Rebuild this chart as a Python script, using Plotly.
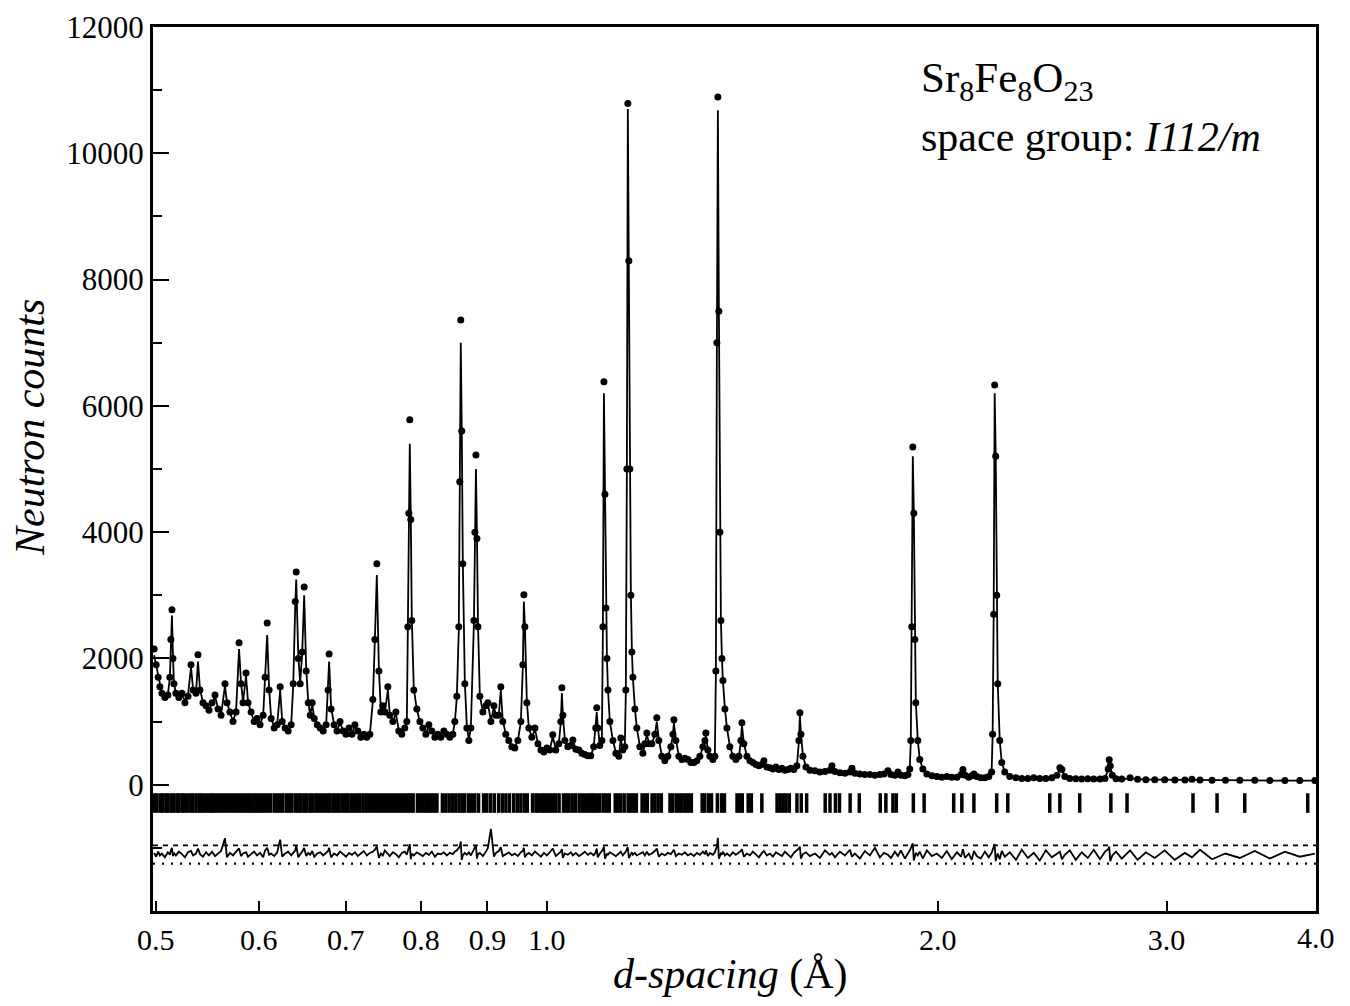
import numpy as np
import plotly.graph_objects as go

# ---------------- data ----------------
d_spacing = [
    0.4985, 0.5003, 0.5021, 0.5036, 0.5054, 0.5081, 0.5108, 0.5126, 0.5135, 0.5145,
    0.5154, 0.5163, 0.5181, 0.5209, 0.5237, 0.5265, 0.5293, 0.5322, 0.5341, 0.5369,
    0.5388, 0.5407, 0.5436, 0.5465, 0.5494, 0.5524, 0.5553, 0.5583, 0.5613, 0.5652,
    0.5672, 0.5702, 0.5733, 0.5764, 0.5795, 0.5815, 0.5836, 0.5867, 0.5888, 0.5920,
    0.5952, 0.5983, 0.6015, 0.6048, 0.6069, 0.6091, 0.6112, 0.6134, 0.6167, 0.6200,
    0.6233, 0.6255, 0.6288, 0.6322, 0.6356, 0.6379, 0.6402, 0.6413, 0.6436, 0.6458,
    0.6481, 0.6504, 0.6527, 0.6551, 0.6574, 0.6597, 0.6621, 0.6656, 0.6692, 0.6727,
    0.6762, 0.6786, 0.6798, 0.6822, 0.6858, 0.6894, 0.6931, 0.6968, 0.7005, 0.7042,
    0.7079, 0.7116, 0.7153, 0.7191, 0.7229, 0.7268, 0.7307, 0.7346, 0.7372, 0.7398,
    0.7425, 0.7451, 0.7477, 0.7504, 0.7544, 0.7570, 0.7611, 0.7652, 0.7692, 0.7733,
    0.7774, 0.7802, 0.7816, 0.7830, 0.7843, 0.7857, 0.7871, 0.7899, 0.7942, 0.7985,
    0.8027, 0.8070, 0.8113, 0.8156, 0.8200, 0.8243, 0.8287, 0.8331, 0.8376, 0.8420,
    0.8465, 0.8495, 0.8525, 0.8555, 0.8570, 0.8585, 0.8600, 0.8616, 0.8647, 0.8678,
    0.8709, 0.8740, 0.8787, 0.8803, 0.8819, 0.8835, 0.8851, 0.8880, 0.8928, 0.8977,
    0.9008, 0.9056, 0.9105, 0.9137, 0.9184, 0.9216, 0.9249, 0.9298, 0.9348, 0.9398,
    0.9448, 0.9499, 0.9550, 0.9584, 0.9601, 0.9618, 0.9652, 0.9686, 0.9738, 0.9791,
    0.9843, 0.9896, 0.9948, 1.0000, 1.0053, 1.0106, 1.0160, 1.0215, 1.0251, 1.0270,
    1.0288, 1.0324, 1.0379, 1.0435, 1.0472, 1.0528, 1.0584, 1.0641, 1.0697, 1.0754,
    1.0810, 1.0866, 1.0905, 1.0925, 1.0945, 1.0985, 1.1025, 1.1045, 1.1065, 1.1085,
    1.1105, 1.1124, 1.1144, 1.1182, 1.1243, 1.1302, 1.1361, 1.1401, 1.1441, 1.1482,
    1.1503, 1.1524, 1.1544, 1.1565, 1.1585, 1.1606, 1.1627, 1.1648, 1.1689, 1.1730,
    1.1793, 1.1856, 1.1898, 1.1940, 1.1982, 1.2046, 1.2110, 1.2153, 1.2196, 1.2261,
    1.2327, 1.2393, 1.2459, 1.2504, 1.2526, 1.2570, 1.2637, 1.2705, 1.2773, 1.2841,
    1.2909, 1.2978, 1.3047, 1.3117, 1.3187, 1.3234, 1.3257, 1.3304, 1.3351, 1.3422,
    1.3470, 1.3494, 1.3518, 1.3542, 1.3566, 1.3590, 1.3615, 1.3639, 1.3663, 1.3712,
    1.3761, 1.3833, 1.3907, 1.3981, 1.4056, 1.4106, 1.4131, 1.4181, 1.4257, 1.4333,
    1.4410, 1.4487, 1.4564, 1.4642, 1.4694, 1.4772, 1.4850, 1.4930, 1.5010, 1.5090,
    1.5170, 1.5251, 1.5332, 1.5413, 1.5495, 1.5578, 1.5633, 1.5661, 1.5689, 1.5745,
    1.5830, 1.5942, 1.6085, 1.6227, 1.6372, 1.6518, 1.6577, 1.6666, 1.6813, 1.6963,
    1.7114, 1.7175, 1.7266, 1.7418, 1.7574, 1.7731, 1.7889, 1.8048, 1.8177, 1.8306,
    1.8403, 1.8534, 1.8634, 1.8733, 1.8866, 1.8967, 1.9030, 1.9064, 1.9098, 1.9132,
    1.9166, 1.9200, 1.9234, 1.9302, 1.9370, 1.9475, 1.9615, 1.9790, 1.9965, 2.0140,
    2.0320, 2.0500, 2.0690, 2.0840, 2.0910, 2.0990, 2.1130, 2.1240, 2.1320, 2.1430,
    2.1580, 2.1740, 2.1890, 2.2000, 2.2040, 2.2080, 2.2120, 2.2160, 2.2200, 2.2240,
    2.2320, 2.2400, 2.2520, 2.2720, 2.2970, 2.3210, 2.3460, 2.3710, 2.3960, 2.4220,
    2.4480, 2.4700, 2.4830, 2.4920, 2.5050, 2.5270, 2.5540, 2.5810, 2.6090, 2.6370,
    2.6660, 2.6900, 2.7050, 2.7100, 2.7150, 2.7250, 2.7430, 2.7710, 2.8120, 2.8500,
    2.8920, 2.9380, 2.9900, 3.0440, 3.0990, 3.1380, 3.1830, 3.2520, 3.3300, 3.4160,
    3.5080, 3.6030, 3.7000, 3.7990, 3.9020,
]

obs_counts = [
    2150, 1900, 1700, 1550, 1450, 1380, 1420, 1700, 2300, 2770,
    2000, 1600, 1450, 1380, 1450, 1300, 1400, 1900, 1500, 1450,
    2060, 1500, 1300, 1250, 1180, 1300, 1420, 1200, 1100, 1600,
    1300, 1150, 1000, 1150, 2250, 1600, 1300, 1770, 1300, 1150,
    1000, 1050, 950, 1100, 1700, 2560, 1500, 1050, 900, 950,
    1550, 1000, 900, 850, 950, 1600, 2900, 3370, 2000, 1600,
    2100, 3130, 1800, 1300, 1100, 1300, 1050, 950, 900, 850,
    950, 1500, 2070, 1200, 950, 850, 1000, 850, 800, 900,
    800, 950, 850, 750, 800, 750, 800, 1350, 2300, 3500,
    1800, 1150, 1250, 1150, 1550, 1100, 1000, 1150, 850, 800,
    900, 1000, 2500, 4300, 5780, 4200, 2600, 1500, 1200, 1000,
    900, 800, 950, 850, 750, 800, 750, 850, 800, 750,
    800, 1000, 1400, 2500, 4800, 7360, 5600, 3500, 1600, 900,
    700, 900, 2600, 4000, 5220, 3900, 2500, 1400, 1150, 1250,
    1300, 1000, 1250, 1100, 1100, 1550, 1000, 800, 700, 600,
    580, 700, 1000, 1900, 3010, 2500, 1300, 900, 750, 900,
    650, 550, 520, 580, 550, 790, 550, 650, 1000, 1535,
    1100, 700, 600, 620, 710, 560, 550, 500, 480, 460,
    460, 600, 900, 1220, 900, 620, 700, 2500, 6380, 4600,
    2800, 2000, 1500, 1000, 700, 500, 450, 740, 550, 600,
    1500, 5000, 10790, 8300, 5000, 3000, 2100, 1700, 1200, 900,
    600, 500, 650, 820, 650, 650, 800, 1060, 700, 450,
    380, 450, 600, 800, 1030, 700, 450, 400, 420, 400,
    350, 350, 380, 450, 600, 700, 820, 550, 450, 400,
    450, 1800, 7000, 10890, 7500, 4000, 2600, 2000, 1650, 1200,
    900, 600, 450, 400, 450, 700, 980, 650, 450, 380,
    350, 320, 300, 320, 380, 280, 270, 250, 280, 240,
    260, 230, 240, 260, 240, 300, 700, 1140, 800, 450,
    280, 230, 220, 200, 210, 230, 300, 210, 190, 180,
    200, 260, 180, 170, 160, 160, 150, 160, 170, 220,
    160, 150, 200, 150, 140, 160, 250, 700, 2500, 5350,
    4300, 2300, 1300, 700, 400, 250, 170, 140, 130, 120,
    130, 120, 120, 160, 240, 150, 120, 140, 170, 130,
    110, 110, 130, 200, 800, 2700, 6330, 5200, 3000, 1600,
    700, 350, 200, 130, 110, 100, 100, 110, 100, 100,
    110, 150, 270, 240, 130, 100, 95, 90, 95, 90,
    90, 100, 250, 395, 300, 150, 95, 90, 110, 85,
    80, 80, 80, 75, 75, 85, 75, 70, 70, 70,
    70, 65, 65, 65, 65,
]

calc_counts = [
    2050, 1880, 1700, 1560, 1450, 1390, 1430, 1690, 2250, 2680,
    2050, 1620, 1440, 1390, 1430, 1320, 1410, 1860, 1520, 1450,
    1950, 1520, 1300, 1240, 1190, 1290, 1400, 1210, 1110, 1560,
    1310, 1140, 1010, 1150, 2150, 1620, 1310, 1720, 1310, 1140,
    1010, 1040, 960, 1090, 1680, 2370, 1520, 1060, 910, 950,
    1500, 1020, 900, 860, 950, 1580, 2850, 3250, 2050, 1620,
    2080, 3000, 1850, 1310, 1100, 1280, 1060, 950, 900, 860,
    940, 1480, 1950, 1230, 950, 860, 980, 860, 810, 890,
    810, 930, 850, 760, 790, 760, 800, 1320, 2280, 3320,
    1850, 1170, 1230, 1150, 1500, 1110, 1000, 1130, 860, 800,
    890, 1000, 2450, 4250, 5400, 4250, 2650, 1520, 1190, 1000,
    900, 810, 930, 850, 760, 790, 760, 840, 800, 760,
    800, 990, 1380, 2450, 4750, 7000, 5650, 3550, 1620, 920,
    720, 900, 2550, 3950, 5000, 3950, 2550, 1420, 1150, 1240,
    1280, 1010, 1230, 1100, 1100, 1500, 1020, 800, 700, 610,
    590, 700, 990, 1880, 2900, 2520, 1320, 900, 750, 880,
    660, 560, 530, 570, 560, 760, 560, 650, 990, 1450,
    1120, 710, 600, 620, 700, 570, 550, 500, 480, 470,
    460, 590, 890, 1150, 920, 630, 720, 2450, 6200, 4650,
    2850, 2020, 1520, 1000, 700, 510, 460, 720, 560, 610,
    1450, 4900, 10700, 8350, 5050, 3050, 2120, 1700, 1210, 900,
    610, 510, 640, 800, 660, 650, 790, 1000, 720, 460,
    390, 450, 590, 790, 980, 710, 460, 400, 410, 400,
    360, 350, 380, 450, 590, 690, 780, 560, 450, 400,
    460, 1750, 6900, 10680, 7550, 4050, 2620, 2010, 1650, 1210,
    900, 610, 460, 400, 440, 690, 950, 660, 450, 380,
    350, 320, 300, 320, 370, 280, 270, 250, 270, 240,
    250, 230, 240, 250, 240, 300, 680, 1100, 820, 460,
    280, 230, 220, 200, 210, 230, 290, 210, 190, 180,
    200, 250, 180, 170, 160, 160, 150, 160, 170, 210,
    160, 150, 190, 150, 140, 160, 260, 680, 2450, 5200,
    4350, 2350, 1320, 700, 400, 250, 170, 140, 130, 120,
    130, 120, 120, 160, 230, 150, 120, 140, 160, 130,
    110, 110, 130, 200, 780, 2650, 6200, 5250, 3050, 1620,
    700, 350, 200, 130, 110, 100, 100, 110, 100, 100,
    110, 150, 260, 240, 130, 100, 95, 90, 95, 90,
    90, 100, 240, 380, 300, 150, 95, 90, 100, 85,
    80, 80, 80, 75, 75, 80, 75, 70, 70, 70,
    70, 65, 65, 65, 65,
]

# difference curve (offset below the pattern)
diff_counts = [
    -1080, -1140, -1060, -1120, -1090, -1150, -1070, -1110, -1040, -1000,
    -1130, -1080, -1120, -1060, -1100, -1150, -1070, -1050, -1120, -1090,
    -1010, -1100, -1140, -1070, -1120, -1060, -1130, -1090, -1050, -850,
    -1150, -1080, -1120, -1060, -1010, -1130, -1090, -1070, -1140, -1100,
    -1060, -1120, -1080, -1150, -1040, -1000, -1110, -1090, -1130, -1070,
    -870, -1140, -1090, -1060, -1120, -1080, -1040, -960, -1150, -1100,
    -1060, -1000, -1130, -1080, -1110, -1050, -1140, -1090, -1070, -1120,
    -1080, -1050, -1000, -1150, -1090, -1120, -1060, -1100, -1140, -1080,
    -1110, -1070, -1130, -1090, -1050, -1120, -1080, -1060, -1030, -980,
    -1160, -1090, -1120, -1040, -1100, -1130, -1070, -1100, -1150, -1080,
    -1060, -1110, -1050, -1000, -940, -1180, -1090, -1120, -1070, -1100,
    -1130, -1080, -1110, -1060, -1140, -1090, -1100, -1070, -1120, -1080,
    -1100, -1060, -1040, -1000, -980, -900, -1190, -1120, -1080, -1110,
    -1070, -1120, -1030, -1010, -960, -1170, -1100, -1080, -1130, -1060,
    -1000, -700, -1140, -1080, -1050, -990, -1130, -1100, -1070, -1120,
    -1090, -1130, -1070, -1050, -1000, -1150, -1100, -1080, -1120, -1060,
    -1100, -1140, -1080, -1120, -1070, -1010, -1130, -1090, -1060, -1020,
    -1160, -1090, -1110, -1070, -1120, -1080, -1130, -1100, -1060, -1110,
    -1080, -1120, -1070, -1010, -1150, -1090, -1060, -1030, -980, -1170,
    -1130, -1090, -1110, -1070, -1100, -1130, -1090, -1060, -1120, -1080,
    -1060, -1020, -990, -1160, -1130, -1090, -1070, -1110, -1080, -1120,
    -1100, -1070, -1120, -1060, -1110, -1090, -1050, -1010, -1140, -1090,
    -1120, -1080, -1100, -1060, -1030, -1130, -1090, -1110, -1070, -1120,
    -1090, -1130, -1080, -1110, -1060, -1100, -1040, -1130, -1080, -1110,
    -1070, -1020, -980, -840, -1170, -1130, -1090, -1110, -1060, -1120,
    -1090, -1130, -1070, -1110, -1080, -1050, -1020, -1140, -1090, -1120,
    -1060, -1110, -1150, -1080, -1050, -1120, -1090, -1140, -1070, -1100,
    -1130, -1060, -1110, -1150, -1080, -1040, -1010, -980, -1170, -1100,
    -1070, -1130, -1090, -1160, -1040, -1110, -1080, -1150, -1060, -1120,
    -1030, -1140, -1090, -1170, -1050, -1120, -1000, -1150, -1080, -1110,
    -1160, -1060, -1130, -1040, -1170, -1090, -1050, -1010, -960, -930,
    -1200, -1150, -1080, -1120, -1060, -1170, -1040, -1130, -1090, -1160,
    -1050, -1180, -1070, -1140, -1020, -1160, -1090, -1190, -1050, -1130,
    -1170, -1060, -1150, -1080, -1020, -970, -940, -1210, -1150, -1090,
    -1180, -1050, -1140, -1070, -1190, -1030, -1160, -1080, -1200, -1040,
    -1150, -1090, -1060, -1180, -1110, -1040, -1190, -1070, -1160, -1030,
    -1180, -1060, -1020, -980, -1210, -1120, -1060, -1170, -1040, -1190,
    -1070, -1160, -1040, -1190, -1080, -1150, -1030, -1180, -1090, -1160,
    -1050, -1170, -1060, -1140, -1090,
]

# Bragg reflection positions (d, Angstrom)
reflection_d = [
    0.499, 0.501, 0.504, 0.506, 0.509, 0.511, 0.514, 0.516, 0.519, 0.521,
    0.524, 0.526, 0.529, 0.532, 0.534, 0.537, 0.540, 0.542, 0.545, 0.548,
    0.551, 0.553, 0.556, 0.559, 0.562, 0.565, 0.568, 0.571, 0.574, 0.577,
    0.580, 0.583, 0.586, 0.589, 0.592, 0.595, 0.598, 0.601, 0.604, 0.607,
    0.610, 0.613, 0.617, 0.620, 0.623, 0.626, 0.630, 0.633, 0.636, 0.640,
    0.643, 0.646, 0.650, 0.653, 0.657, 0.660, 0.664, 0.667, 0.671, 0.674,
    0.678, 0.681, 0.685, 0.689, 0.692, 0.696, 0.700, 0.703, 0.707, 0.711,
    0.715, 0.718, 0.722, 0.726, 0.730, 0.734, 0.738, 0.742, 0.746,
    0.750, 0.754, 0.758, 0.762, 0.766, 0.770, 0.774, 0.778, 0.782, 0.786, 0.789,
    0.795, 0.799, 0.803, 0.807, 0.811, 0.815, 0.819, 0.823,
    0.831, 0.836, 0.841, 0.846, 0.851, 0.856, 0.861, 0.864,
    0.870, 0.875, 0.880, 0.886,
    0.894, 0.899, 0.905, 0.911,
    0.918, 0.924, 0.930, 0.936,
    0.943, 0.949, 0.955, 0.961, 0.966,
    0.975, 0.981, 0.985,
    0.991, 0.996, 1.001,
    1.006, 1.011, 1.016, 1.022,
    1.030, 1.035, 1.040,
    1.046, 1.052, 1.059,
    1.065, 1.071, 1.077, 1.082,
    1.086, 1.092, 1.098,
    1.105, 1.111, 1.117,
    1.129, 1.134, 1.140, 1.147,
    1.155, 1.160, 1.166, 1.172,
    1.184, 1.190, 1.195,
    1.205, 1.211, 1.218, 1.225,
    1.244, 1.250, 1.258, 1.265,
    1.271, 1.278, 1.285, 1.292,
    1.317, 1.323, 1.332, 1.339,
    1.353, 1.363, 1.370,
    1.401, 1.408, 1.414,
    1.429, 1.437,
    1.464,
    1.504, 1.512, 1.520, 1.528, 1.537,
    1.558, 1.570,
    1.585,
    1.638, 1.652, 1.668, 1.680,
    1.712, 1.740,
    1.806, 1.824, 1.847, 1.858,
    1.915, 1.952,
    2.057, 2.087, 2.132, 2.220, 2.264, 2.439, 2.483, 2.572, 2.718, 2.797,
    3.144, 3.281, 3.446, 3.853,
]

reflection_level = -290      # counts level of the tick-mark row
diff_upper_level = -960      # dashed guide above the difference curve
diff_lower_level = -1250     # dotted guide below the difference curve

x_tick_values = [0.5, 0.6, 0.7, 0.8, 0.9, 1.0, 2.0, 3.0]
x_tick_labels = ["0.5", "0.6", "0.7", "0.8", "0.9", "1.0", "2.0", "3.0"]
x_end_label = "4.0"          # printed at the right end of the axis, as in the original
y_tick_values = [0, 2000, 4000, 6000, 8000, 10000, 12000]
y_tick_labels = ["0", "2000", "4000", "6000", "8000", "10000", "12000"]
y_minor_values = [-1000, 1000, 3000, 5000, 7000, 9000, 11000]
x_range = [0.4975, 3.91]
y_range = [-2000, 12000]

lengths = {len(d_spacing), len(obs_counts), len(calc_counts), len(diff_counts)}
if len(lengths) != 1:
    raise ValueError(f"length mismatch: {len(d_spacing)}, {len(obs_counts)}, "
                     f"{len(calc_counts)}, {len(diff_counts)}")

# ---------------- figure ----------------
FONT = "Liberation Serif, Times New Roman, serif"
fig = go.Figure()

fig.add_trace(go.Scatter(
    x=d_spacing, y=calc_counts, mode="lines",
    line=dict(color="black", width=1.8), hoverinfo="skip", name="calc"))
fig.add_trace(go.Scatter(
    x=d_spacing, y=obs_counts, mode="markers",
    marker=dict(color="black", size=7), name="obs"))
fig.add_trace(go.Scatter(
    x=reflection_d, y=[reflection_level] * len(reflection_d), mode="markers",
    marker=dict(symbol="line-ns", size=14, color="black",
                line=dict(width=3.5, color="black")), name="reflections"))
fig.add_trace(go.Scatter(
    x=d_spacing, y=diff_counts, mode="lines",
    line=dict(color="black", width=1.8), name="difference"))

fig.add_hline(y=diff_upper_level, line=dict(color="black", width=1.6, dash="5px,5px"))
fig.add_hline(y=diff_lower_level, line=dict(color="black", width=2.2, dash="2px,7px"))

lx0, lx1 = np.log10(x_range[0]), np.log10(x_range[1])

fig.update_xaxes(
    type="log", range=[lx0, lx1], automargin=False,
    tickmode="array", tickvals=x_tick_values, ticktext=x_tick_labels,
    ticks="inside", ticklen=10, tickwidth=2, tickcolor="black",
    showline=True, linewidth=3, linecolor="black", mirror=True,
    showgrid=False, zeroline=False,
    tickfont=dict(family=FONT, size=30, color="black"),
    ticklabelstandoff=0,
)
fig.update_yaxes(
    range=y_range, automargin=False,
    tickmode="array", tickvals=y_tick_values, ticktext=y_tick_labels,
    ticks="inside", ticklen=16, tickwidth=2, tickcolor="black",
    minor=dict(tickmode="array", tickvals=y_minor_values, ticks="inside",
               ticklen=9, tickwidth=2, tickcolor="black", showgrid=False),
    showline=True, linewidth=3, linecolor="black", mirror=True,
    showgrid=False, zeroline=False,
    tickfont=dict(family=FONT, size=31, color="black"),
    ticklabelstandoff=0,
)

annotations = [
    dict(text=x_end_label, xref="paper", yref="paper", x=1.0, y=0,
         xanchor="center", yanchor="top", yshift=-8, showarrow=False,
         font=dict(family=FONT, size=30, color="black")),
    dict(text="<i>Neutron counts</i>", xref="paper", yref="paper",
         x=-0.1058, y=0.5475, xanchor="center", yanchor="middle",
         textangle=-90, showarrow=False,
         font=dict(family=FONT, size=42, color="black")),
    dict(text="<i>d-spacing</i> (Å)", xref="paper", yref="paper",
         x=0.496, y=-0.072, xanchor="center", yanchor="middle",
         showarrow=False, font=dict(family=FONT, size=42, color="black")),
    dict(text="Sr<sub>8</sub>Fe<sub>8</sub>O<sub>23</sub>", xref="paper", yref="paper",
         x=0.6586, y=0.9385, xanchor="left", yanchor="middle", showarrow=False,
         font=dict(family=FONT, size=43, color="black")),
    dict(text="space group: <i>I112/m</i>", xref="paper", yref="paper",
         x=0.6586, y=0.876, xanchor="left", yanchor="middle", showarrow=False,
         font=dict(family=FONT, size=42, color="black")),
]

# the page has an 8px body margin on every side, so the figure is 16px
# smaller than the 1350x1006 window and the plot frame lands at x 153-1316, y 27-911
fig.update_layout(
    width=1334, height=990,
    margin=dict(l=145, r=26, t=19, b=87),
    paper_bgcolor="white", plot_bgcolor="white",
    showlegend=False,
    annotations=annotations,
    font=dict(family=FONT, color="black"),
)

fig.write_html("out.html")
